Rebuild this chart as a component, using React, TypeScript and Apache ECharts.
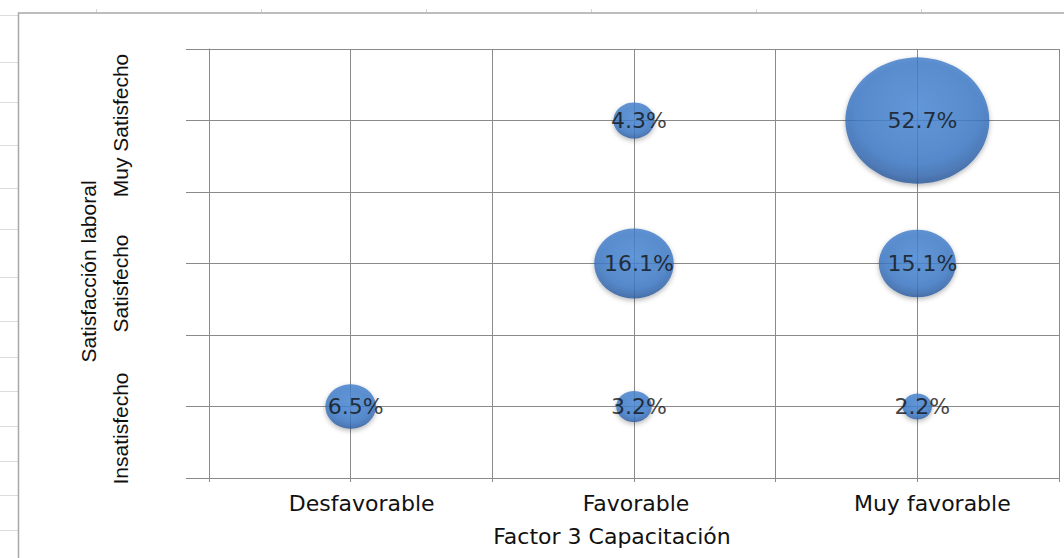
import React, { useEffect, useRef } from "react";
import * as echarts from "echarts";

// ---- Data ----
const xCategories = ["Desfavorable", "Favorable", "Muy favorable"];
const xPositions = [1, 3, 5];
const yCategories = ["Insatisfecho", "Satisfecho", "Muy Satisfecho"];
const yPositions = [0.5, 1.5, 2.5];
const bubbleXIndex = [0, 1, 2, 1, 2, 1, 2];
const bubbleYIndex = [0, 0, 0, 1, 1, 2, 2];
const bubbleValues = [6.5, 3.2, 2.2, 16.1, 15.1, 4.3, 52.7];
const xTitle = "Factor 3 Capacitación";
const yTitle = "Satisfacción laboral";

// spreadsheet background cell lines (decor)
const sheetRowLines = [15, 62, 102, 145, 188, 229, 277, 321, 357, 391, 426, 461, 495, 530];
const sheetColTicks = [96, 261, 426, 591, 756, 921];

export default function App() {
  const ref = useRef<HTMLDivElement>(null);

  useEffect(() => {
    document.body.style.margin = "0";
    const chart = echarts.init(ref.current!, null, { renderer: "svg" });

    const data = bubbleValues.map((v, i) => [
      xPositions[bubbleXIndex[i]],
      yPositions[bubbleYIndex[i]],
      v,
    ]);

    const xRich: Record<string, any> = {
      x0: { padding: [0, 0, 0, 22] },
      x1: { padding: [0, 0, 0, 4] },
      x2: { padding: [0, 0, 0, 30] },
    };
    const yRich: Record<string, any> = {
      y0: { padding: [0, 44, 0, 0] },
      y1: { padding: [0, 40, 0, 0] },
      y2: { padding: [0, 10, 0, 0] },
    };

    const graphics: any[] = [];
    sheetRowLines.forEach((y) =>
      graphics.push({
        type: "line",
        shape: { x1: 0, y1: y + 0.5, x2: 18, y2: y + 0.5 },
        style: { stroke: "#dcdcdc", lineWidth: 1 },
        silent: true,
      })
    );
    sheetColTicks.forEach((x) =>
      graphics.push({
        type: "line",
        shape: { x1: x + 0.5, y1: 9, x2: x + 0.5, y2: 13 },
        style: { stroke: "#d4d4d4", lineWidth: 1 },
        silent: true,
      })
    );
    graphics.push({
      type: "rect",
      shape: { x: 18.5, y: 13, width: 1200, height: 700 },
      style: { fill: "none", stroke: "#a8a8a8", lineWidth: 1.5 },
      silent: true,
    });

    chart.setOption({
      animation: false,
      backgroundColor: "#ffffff",
      graphic: graphics,
      grid: {
        left: 209,
        right: 5,
        top: 49,
        bottom: 80,
        containLabel: false,
        outerBoundsMode: "none",
      },
      xAxis: {
        type: "value",
        min: 0,
        max: 6,
        interval: 1,
        name: xTitle,
        nameLocation: "middle",
        nameGap: 47,
        nameTextStyle: {
          fontFamily: "DejaVu Sans",
          fontSize: 22,
          color: "#111111",
          padding: [0, 44, 0, 0],
        },
        axisLine: { show: true, lineStyle: { color: "#8a8a8a", width: 1 } },
        axisTick: { show: true, inside: false, length: 4, lineStyle: { color: "#8a8a8a" } },
        splitLine: { show: true, lineStyle: { color: "#8a8a8a", width: 1 } },
        axisLabel: {
          margin: 14,
          fontFamily: "DejaVu Sans",
          fontSize: 22,
          color: "#111111",
          formatter: (val: number) => {
            const i = xPositions.indexOf(val);
            return i >= 0 ? `{x${i}|${xCategories[i]}}` : "";
          },
          rich: xRich,
          showMinLabel: true,
          showMaxLabel: true,
        },
      },
      yAxis: {
        type: "value",
        min: 0,
        max: 3,
        interval: 0.5,
        name: yTitle,
        nameLocation: "middle",
        nameRotate: 90,
        nameGap: 110,
        nameTextStyle: {
          fontFamily: "Liberation Sans",
          fontSize: 21,
          color: "#111111",
          padding: [0, 16, 0, 0],
        },
        axisLine: { show: true, lineStyle: { color: "#8a8a8a", width: 1 } },
        axisTick: { show: true, inside: false, length: 23, lineStyle: { color: "#8a8a8a" } },
        splitLine: { show: true, lineStyle: { color: "#8a8a8a", width: 1 } },
        axisLabel: {
          rotate: 90,
          margin: 78,
          fontFamily: "Liberation Sans",
          fontSize: 21,
          color: "#111111",
          formatter: (val: number) => {
            const i = yPositions.indexOf(val);
            return i >= 0 ? `{y${i}|${yCategories[i]}}` : "";
          },
          rich: yRich,
        },
      },
      series: [
        {
          type: "scatter",
          data,
          symbol: "circle",
          symbolSize: (d: number[]) => {
            const h = 17.4 * Math.sqrt(d[2]);
            return [h * 1.14, h];
          },
          itemStyle: {
            color: new echarts.graphic.RadialGradient(0.5, 0.4, 0.62, [
              { offset: 0, color: "#4a8ad8" },
              { offset: 0.7, color: "#3b79c8" },
              { offset: 0.88, color: "#3267b0" },
              { offset: 1, color: "#23508f" },
            ]),
            shadowBlur: 5,
            shadowColor: "rgba(0,0,0,0.35)",
            shadowOffsetY: 2,
          },
          label: {
            show: true,
            position: "inside",
            offset: [5, 0],
            fontFamily: "DejaVu Sans",
            fontSize: 22,
            color: "#111111",
            formatter: (p: any) => `${p.value[2].toFixed(1)}%`,
          },
          z: 3,
        },
      ],
    });

    return () => chart.dispose();
  }, []);

  return <div ref={ref} style={{ width: 1064, height: 558 }} />;
}
